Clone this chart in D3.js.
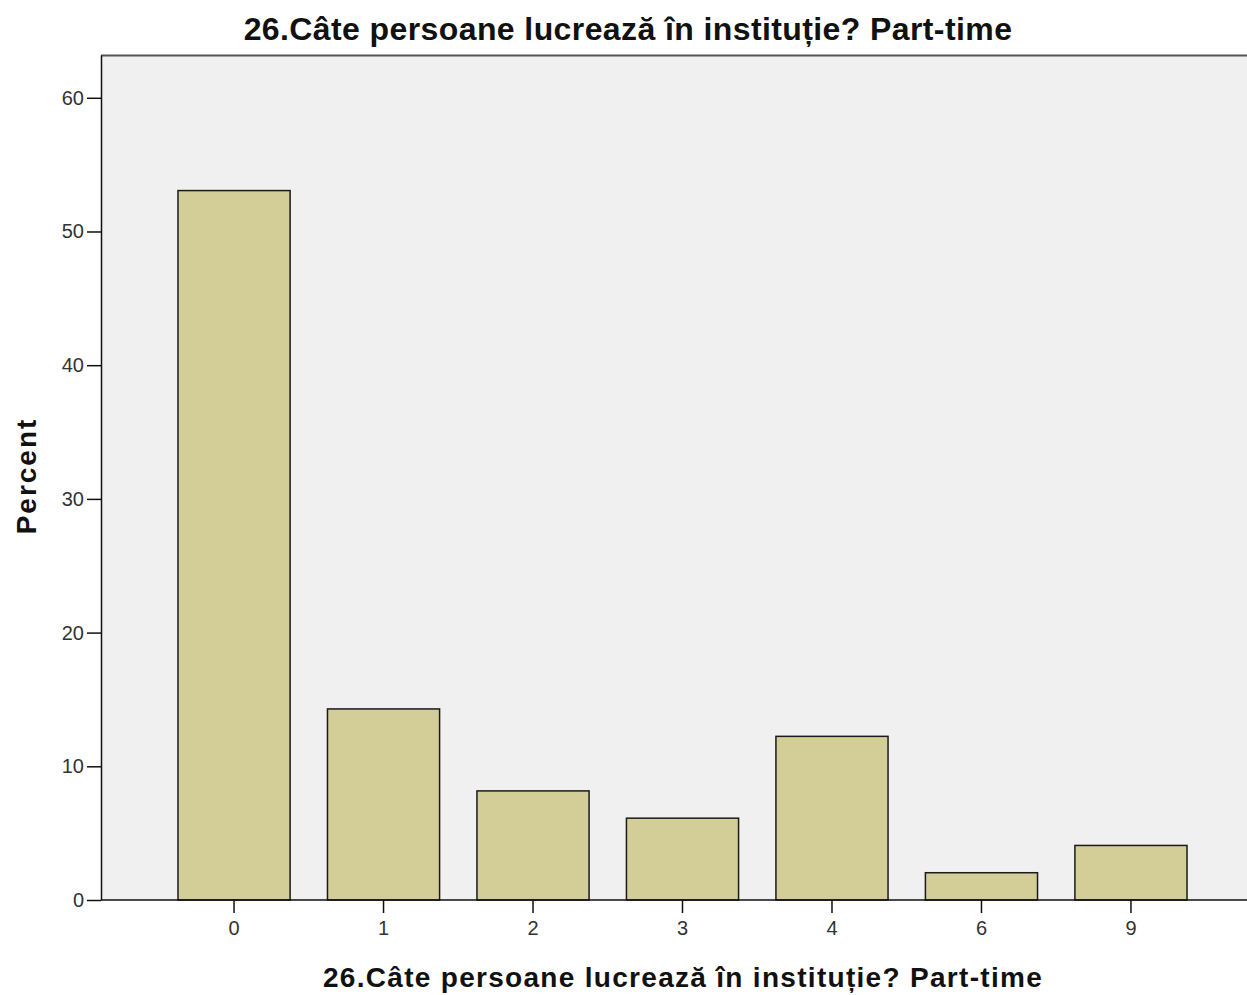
<!DOCTYPE html>
<html>
<head>
<meta charset="utf-8">
<script src="https://cdn.jsdelivr.net/npm/d3@7"></script>
<style>
  body { margin: 0; background: #fff; }
  svg { display: block; font-family: "Liberation Sans", Arial, sans-serif; }
</style>
</head>
<body>
<div id="chart"></div>
<script>
// data
let categories = ["0", "1", "2", "3", "4", "6", "9"];
let percents = [53.06, 14.29, 8.16, 6.12, 12.24, 2.04, 4.08];
let yTicks = [0, 10, 20, 30, 40, 50, 60];
let titleText = "26.Câte persoane lucrează în instituție? Part-time";

let WIDTH = 1247, HEIGHT = 995;
let plot = { left: 101, top: 55, right: 1247, bottom: 900 };

let svg = d3.select("#chart").append("svg")
    .attr("width", WIDTH)
    .attr("height", HEIGHT);

let x = d3.scaleBand()
    .domain(categories)
    .range([plot.left, 1264])
    .paddingInner(0.25)
    .paddingOuter(0.515);

let y = d3.scaleLinear()
    .domain([0, 63.2])
    .range([plot.bottom, plot.top]);

// plot background
svg.append("rect")
    .attr("x", plot.left)
    .attr("y", plot.top)
    .attr("width", plot.right - plot.left)
    .attr("height", plot.bottom - plot.top)
    .attr("fill", "#f0f0f0");

// top frame line
svg.append("line")
    .attr("x1", plot.left).attr("x2", plot.right)
    .attr("y1", plot.top + 0.5).attr("y2", plot.top + 0.5)
    .attr("stroke", "#555").attr("stroke-width", 2);

// bars
svg.append("g").selectAll("rect")
    .data(categories)
    .join("rect")
    .attr("x", (d) => x(d))
    .attr("y", (d, i) => y(percents[i]))
    .attr("width", x.bandwidth())
    .attr("height", (d, i) => y(0) - y(percents[i]))
    .attr("fill", "#d3ce97")
    .attr("stroke", "#1a1a1a")
    .attr("stroke-width", 1.5);

// y axis
let yAxis = svg.append("g")
    .attr("transform", `translate(${plot.left},0)`)
    .call(d3.axisLeft(y).tickValues(yTicks).tickSize(14).tickSizeOuter(0).tickPadding(3));
yAxis.select(".domain").attr("stroke", "#111").attr("stroke-width", 1.5);
yAxis.selectAll(".tick line").attr("stroke", "#111").attr("stroke-width", 1.5);
yAxis.selectAll(".tick text")
    .attr("font-size", 20)
    .attr("fill", "#333")
    .attr("font-family", "'Liberation Sans', Arial, sans-serif");

// x axis
let xAxis = svg.append("g")
    .attr("transform", `translate(0,${plot.bottom})`)
    .call(d3.axisBottom(x).tickSize(13).tickSizeOuter(0).tickPadding(8));
xAxis.select(".domain").remove();
svg.append("line")
    .attr("x1", plot.left).attr("x2", plot.right)
    .attr("y1", plot.bottom).attr("y2", plot.bottom)
    .attr("stroke", "#111").attr("stroke-width", 1.5);
xAxis.selectAll(".tick line").attr("stroke", "#111").attr("stroke-width", 1.5);
xAxis.selectAll(".tick text")
    .attr("font-size", 20)
    .attr("fill", "#333")
    .attr("font-family", "'Liberation Sans', Arial, sans-serif");

// titles
svg.append("text")
    .attr("x", 628).attr("y", 40)
    .attr("text-anchor", "middle")
    .attr("font-size", 32)
    .attr("letter-spacing", 0.4)
    .attr("font-weight", "bold")
    .attr("fill", "#111")
    .text(titleText);

svg.append("text")
    .attr("x", 683).attr("y", 987)
    .attr("text-anchor", "middle")
    .attr("font-size", 28)
    .attr("letter-spacing", 1.3)
    .attr("font-weight", "bold")
    .attr("fill", "#111")
    .text(titleText);

svg.append("text")
    .attr("transform", "translate(36,476) rotate(-90)")
    .attr("text-anchor", "middle")
    .attr("font-size", 28)
    .attr("letter-spacing", 2)
    .attr("font-weight", "bold")
    .attr("fill", "#111")
    .text("Percent");
</script>
</body>
</html>
